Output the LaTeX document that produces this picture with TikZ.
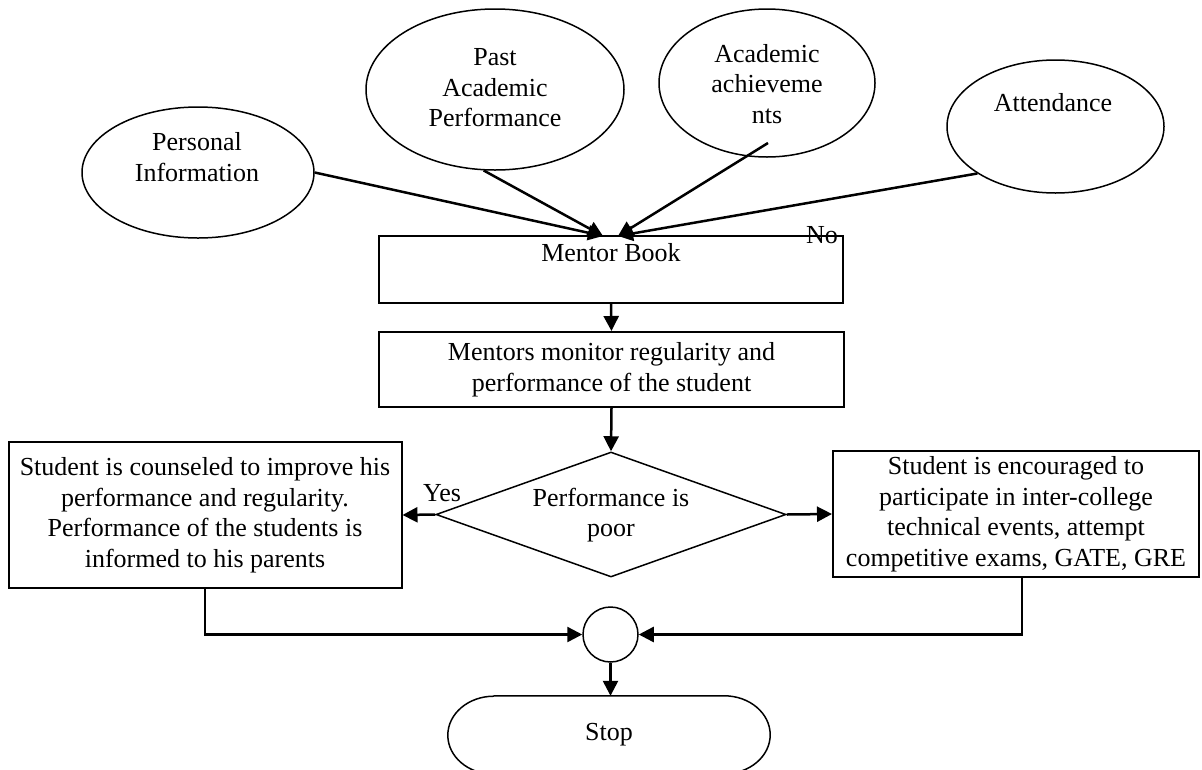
\documentclass[tikz,border=0pt]{standalone}
\usepackage{fontspec}
\setmainfont{Liberation Serif}
\usetikzlibrary{shapes.geometric,arrows.meta}
\begin{document}
\begin{tikzpicture}[x=1pt,y=-1pt,
  every node/.style={font=\fontsize{26}{30.5}\selectfont},
  txt/.style={align=center,inner sep=0pt},
  ell/.style={ellipse,draw,line width=1.5pt,inner sep=0pt},
  box/.style={rectangle,draw,line width=2pt,inner sep=0pt},
  conn/.style={line width=2.5pt,-{Triangle[length=15pt,width=15pt]}},
  plain/.style={line width=2.5pt}
]
\useasboundingbox (0,0) rectangle (1202,769);

% ellipses
\node[ell,minimum width=232pt,minimum height=131pt] (pi) at (198,172.5) {};
\node[txt] (pitxt) at (197,157) {Personal\\Information};
\node[ell,minimum width=258pt,minimum height=161pt] (past) at (495,89.5) {};
\node[txt] (pasttxt) at (495,88) {Past\\Academic\\Performance};
\node[ell,minimum width=216pt,minimum height=148pt] (acad) at (767,83) {};
\node[txt] (acadtxt) at (767,84) {Academic\\achieveme\\nts};
\node[ell,minimum width=217pt,minimum height=133pt] (att) at (1055.5,126.5) {};
\node[txt] (atttxt) at (1053,103) {Attendance};

% mentor book
\node[box,minimum width=464pt,minimum height=67pt] (mb) at (611,269) {};
\node[txt] (mbtxt) at (611,253) {Mentor Book};
\node[txt] (no) at (822,235) {No};

% monitor
\node[box,minimum width=465pt,minimum height=75pt,align=center] (mm) at (611.5,369.5) {Mentors monitor regularity and\\performance of the student};

% decision
\node[diamond,draw,line width=1.5pt,inner sep=0pt,minimum width=350pt,minimum height=125pt] (dia) at (611,514.5) {};
\node[txt] (diatxt) at (611,515) {Performance is\\poor};
\node[txt] (yes) at (442,493) {Yes};

% side boxes
\node[box,minimum width=393pt,minimum height=146pt,align=center] (left) at (205,515) {Student is counseled to improve his\\performance and regularity.\\Performance of the students is\\informed to his parents};
\node[box,minimum width=366pt,minimum height=126pt,align=center] (right) at (1016,514) {Student is encouraged to\\participate in inter-college\\technical events, attempt\\competitive exams, GATE, GRE};

% connector circle
\node[circle,draw,line width=1.5pt,minimum size=55pt,inner sep=0pt] (circ) at (610.5,634.5) {};

% stop terminal
\node[txt,minimum width=322pt,minimum height=78pt] (stop) at (609,735) {Stop};
\draw[line width=1.5pt] (stop.north west) ++(46,0) -- ([xshift=-46pt]stop.north east)
  arc[start angle=90,end angle=-90,x radius=46pt,y radius=39pt]
  -- ([xshift=46pt]stop.south west)
  arc[start angle=270,end angle=90,x radius=46pt,y radius=39pt];

% arrow tips at mentor book
\coordinate (tipA) at (603,236);
\coordinate (tipB) at (618,236);
\coordinate (acadstart) at (768,143);

\draw[conn] (pi.east) -- (tipA);
\draw[conn] (past.262) -- (tipA);
\draw[conn] (acadstart) -- (tipB);
\draw[conn] (att.211) -- (tipB);

\draw[conn] (mb.south) -- (mm.north);
\draw[conn] (mm.south) -- (dia.north);
\draw[conn] (dia.west) -- (left.east);
\draw[conn] (dia.east) -- (right.west);
\draw[conn] (left.south) |- (circ.west);
\draw[conn] ([xshift=6pt]right.south) |- (circ.east);
\draw[conn] (circ.south) -- (circ.south |- stop.north);
\end{tikzpicture}
\end{document}
